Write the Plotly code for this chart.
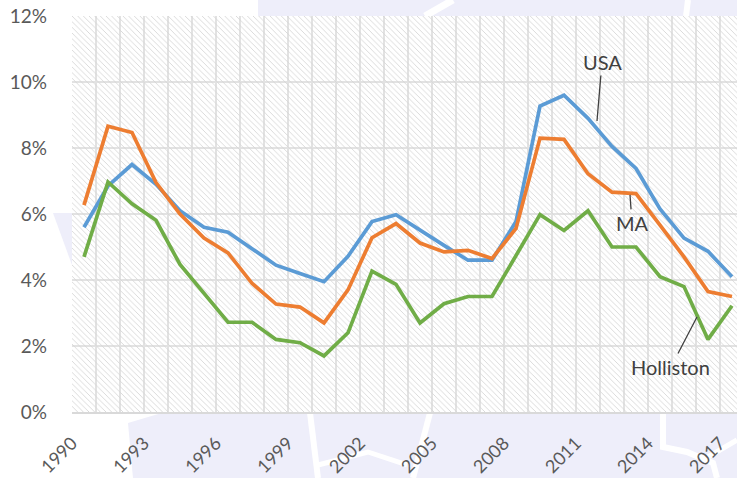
import plotly.graph_objects as go

years = list(range(1990, 2018))
usa = [5.6, 6.85, 7.5, 6.9, 6.1, 5.6, 5.45, 4.95, 4.45, 4.2, 3.95, 4.72, 5.77, 5.98, 5.5, 5.05, 4.6, 4.6, 5.77,
       9.27, 9.6, 8.9, 8.05, 7.38, 6.15, 5.27, 4.87, 4.1]
ma = [6.27, 8.66, 8.47, 6.95, 6.0, 5.27, 4.82, 3.9, 3.27, 3.18, 2.7, 3.7, 5.28, 5.71, 5.12, 4.85, 4.9, 4.65, 5.56,
      8.3, 8.26, 7.22, 6.66, 6.62, 5.66, 4.7, 3.65, 3.5]
holliston = [4.7, 6.97, 6.31, 5.81, 4.47, 3.59, 2.72, 2.72, 2.2, 2.1, 1.7, 2.4, 4.27, 3.87, 2.7, 3.28, 3.5, 3.5, 4.73,
             5.98, 5.5, 6.1, 5.0, 5.0, 4.1, 3.8, 2.2, 3.22]
y_ticks = [0, 2, 4, 6, 8, 10, 12]
y_labels = ["0%", "2%", "4%", "6%", "8%", "10%", "12%"]
x_ticks = [1990, 1993, 1996, 1999, 2002, 2005, 2008, 2011, 2014, 2017]

FONT = "Lato"
LAV = "#EEEEFA"
W, H = 737, 478
ML, MT, MB = 72, 16, 66
PW, PH = W - ML, H - MT - MB

fig = go.Figure()

# hatched plot-area background
fig.add_trace(go.Bar(
    x=years, y=[max(y_ticks)] * len(years), width=1,
    marker=dict(color="rgba(0,0,0,0)", line=dict(width=0),
                pattern=dict(shape="\\", size=4, solidity=0.22, fgcolor="#d6d6d6",
                             bgcolor="rgba(0,0,0,0)", fillmode="replace")),
    hoverinfo="skip", showlegend=False))

series = [("USA", usa, "#5B9BD5"), ("MA", ma, "#ED7D31"), ("Holliston", holliston, "#70AD47")]
for name, vals, col in series:
    fig.add_trace(go.Scatter(x=years, y=vals, mode="lines", name=name,
                             line=dict(color=col, width=3.7), showlegend=False))

# annotations with leader lines
ann_font = dict(family=FONT, size=20, color="#404040")
fig.add_annotation(x=2011.375, y=8.82, xref="x", yref="y", text="USA", showarrow=True,
                   arrowhead=0, arrowwidth=1.3, arrowcolor="#404040", ax=5, ay=-59, font=ann_font)
fig.add_annotation(x=2012.75, y=6.58, xref="x", yref="y", text="MA", showarrow=True,
                   arrowhead=0, arrowwidth=1.3, arrowcolor="#404040", ax=2, ay=28, font=ann_font)
fig.add_annotation(x=2015.54, y=2.88, xref="x", yref="y", text="Holliston", showarrow=True,
                   arrowhead=0, arrowwidth=1.3, arrowcolor="#404040", ax=-26, ay=50, font=ann_font)

# faint watermark shapes in the page background (pixel -> paper coords)
def pp(x, y):
    return f"{(x - ML) / PW:.4f},{(H - MB - y) / PH:.4f}"
def P(pts):
    return "M " + " L ".join(pp(x, y) for x, y in pts) + " Z"
def L(pts):
    return "M " + " L ".join(pp(x, y) for x, y in pts)

shapes = []
for poly in [
    [(258, 0), (737, 0), (737, 16), (258, 16)],
    [(165, 412), (737, 412), (737, 478), (133, 478), (128, 423)],
    [(53, 213), (72, 213), (72, 265)],
]:
    shapes.append(dict(type="path", xref="paper", yref="paper", path=P(poly),
                       fillcolor=LAV, line=dict(width=0), layer="below"))
for ln, w in [
    ([(453, 0), (425, 16)], 7),
    ([(688, 0), (686, 16)], 6),
    ([(310, 413), (318, 478)], 6),
    ([(318, 465), (368, 452), (407, 465)], 5),
    ([(430, 413), (413, 478)], 6),
    ([(663, 413), (663, 447), (687, 452), (713, 463), (717, 478)], 6),
    ([(708, 457), (737, 440)], 5),
]:
    shapes.append(dict(type="path", xref="paper", yref="paper", path=L(ln),
                       line=dict(color="white", width=w), layer="below"))

fig.update_layout(
    width=W, height=H,
    margin=dict(l=ML, r=0, t=MT, b=MB),
    paper_bgcolor="white", plot_bgcolor="white",
    font=dict(family=FONT, color="#595959"),
    shapes=shapes, bargap=0, hovermode=False,
    xaxis=dict(range=[1989.5, 1989.5 + PW / 24], tickvals=x_ticks, tickangle=-45,
               showgrid=False, ticks="", tickfont=dict(family=FONT, size=18, color="#595959"),
               showline=True, linecolor="#d9d9d9", linewidth=1.5, zeroline=False,
               ticklabelstandoff=12, ticklabelshift=-12, ticklabeloverflow="allow", automargin=False,
               minor=dict(tickmode="linear", tick0=1989.5, dtick=1, showgrid=True,
                          gridcolor="#e2e2e2", gridwidth=1.5)),
    yaxis=dict(range=[0, 12], tickvals=y_ticks, ticktext=y_labels, showgrid=True,
               gridcolor="#e2e2e2", gridwidth=1.5, zeroline=False, ticks="", automargin=False,
               tickfont=dict(family=FONT, size=19, color="#595959"), ticklabelstandoff=24),
)

fig.write_html("out.html", config={"displayModeBar": False},
               post_script="document.body.style.margin='0';document.body.style.overflow='hidden';")
